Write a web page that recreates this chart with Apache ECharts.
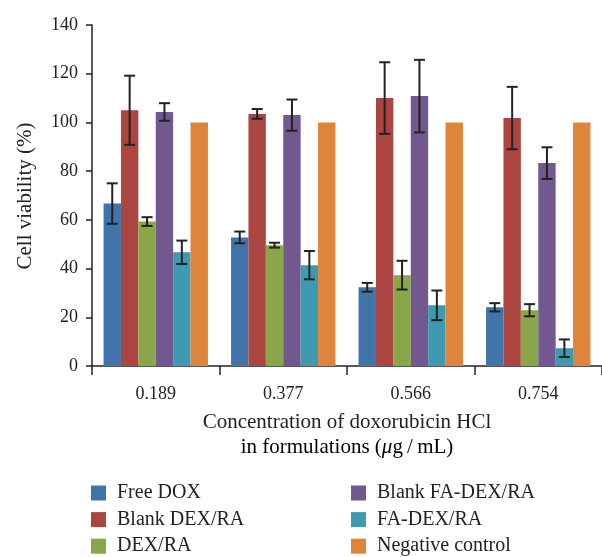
<!DOCTYPE html>
<html>
<head>
<meta charset="utf-8">
<script src="https://cdn.jsdelivr.net/npm/echarts@6/dist/echarts.min.js"></script>
<style>
  html, body { margin: 0; padding: 0; background: #fff; }
  #chart { width: 602px; height: 557px; }
</style>
</head>
<body>
<div id="chart"></div>
<script>
// Doxorubicin concentrations (µg/mL)
const categories = ['0.189', '0.377', '0.566', '0.754'];
const yTicks = [0, 20, 40, 60, 80, 100, 120, 140];

// Mean cell viability (%) per formulation
const freeDox      = [66.7, 52.8, 32.3, 24.1];
const blankDexRa   = [105.0, 103.5, 110.0, 101.8];
const dexRa        = [59.3, 49.6, 37.3, 22.9];
const blankFaDexRa = [104.3, 103.0, 110.8, 83.3];
const faDexRa      = [46.7, 41.4, 24.9, 7.3];
const negControl   = [100, 100, 100, 100];

// Standard deviations
const freeDoxSd      = [8.3, 2.4, 1.8, 1.7];
const blankDexRaSd   = [14.2, 2.0, 14.7, 12.8];
const dexRaSd        = [1.8, 1.0, 5.9, 2.5];
const blankFaDexRaSd = [3.6, 6.4, 14.9, 6.5];
const faDexRaSd      = [4.8, 5.8, 6.1, 3.6];
const negControlSd   = [0, 0, 0, 0];

const seriesNames = ['Free DOX', 'Blank DEX/RA', 'DEX/RA', 'Blank FA-DEX/RA', 'FA-DEX/RA', 'Negative control'];
const seriesValues = [freeDox, blankDexRa, dexRa, blankFaDexRa, faDexRa, negControl];
const seriesSd = [freeDoxSd, blankDexRaSd, dexRaSd, blankFaDexRaSd, faDexRaSd, negControlSd];
const colors = ['#4174a8', '#aa4542', '#89a64b', '#71588f', '#3e9ab0', '#de8539'];

const BAR_W = 17.4;
const FONT = '"Liberation Serif", "DejaVu Serif", serif';
const TEXT = '#222';

const chart = echarts.init(document.getElementById('chart'), null, { renderer: 'canvas' });

const barSeries = seriesNames.map((name, i) => ({
  name: name,
  type: 'bar',
  data: seriesValues[i],
  barWidth: BAR_W,
  barGap: '0%',
  itemStyle: { color: colors[i] },
  z: 2
}));

// Error bars drawn at the centre of each bar in its group
const errorSeries = seriesNames.map((name, i) => ({
  type: 'custom',
  name: name + ' sd',
  z: 5,
  silent: true,
  data: seriesValues[i].map((v, j) => [j, v, seriesSd[i][j]]),
  renderItem: function (params, api) {
    const sd = api.value(2);
    if (!sd) return null;
    const mean = api.value(1);
    const c = api.coord([api.value(0), mean]);
    const x = c[0] + (i - 2.5) * BAR_W;
    const top = api.coord([api.value(0), mean + sd])[1];
    const bot = api.coord([api.value(0), mean - sd])[1];
    const cap = 5.5;
    const style = { stroke: '#222', lineWidth: 2 };
    return {
      type: 'group',
      children: [
        { type: 'line', shape: { x1: x, y1: top, x2: x, y2: bot }, style: style },
        { type: 'line', shape: { x1: x - cap, y1: top, x2: x + cap, y2: top }, style: style },
        { type: 'line', shape: { x1: x - cap, y1: bot, x2: x + cap, y2: bot }, style: style }
      ]
    };
  }
}));

const legendBase = {
  orient: 'vertical',
  padding: 0,
  height: 100,
  itemWidth: 15,
  itemHeight: 15,
  itemGap: 6.6,
  icon: 'rect',
  selectedMode: false,
  textStyle: { fontFamily: FONT, fontSize: 20, color: TEXT, padding: [0, 0, 0, 6] }
};

chart.setOption({
  animation: false,
  backgroundColor: '#fff',
  color: colors,
  grid: { left: 92, right: -9, top: 25, bottom: 191 },
  legend: [
    Object.assign({}, legendBase, { left: 91, top: 483, data: seriesNames.slice(0, 3) }),
    Object.assign({}, legendBase, { left: 351, top: 483, data: seriesNames.slice(3) })
  ],
  xAxis: {
    type: 'category',
    data: categories,
    axisLine: { lineStyle: { color: '#222', width: 1.5 } },
    axisTick: { show: true, length: 9, lineStyle: { color: '#222', width: 1.5 } },
    axisLabel: { fontFamily: FONT, fontSize: 18, color: TEXT, margin: 19 }
  },
  yAxis: {
    type: 'value',
    min: yTicks[0],
    max: yTicks[yTicks.length - 1],
    interval: 20,
    splitLine: { show: false },
    axisLine: { show: true, lineStyle: { color: '#222', width: 1.5 } },
    axisTick: { show: true, length: 6, lineStyle: { color: '#222', width: 1.5 } },
    axisLabel: { fontFamily: FONT, fontSize: 18, color: TEXT, margin: 14 }
  },
  graphic: [
    {
      type: 'text',
      x: 25, y: 196,
      rotation: Math.PI / 2,
      style: {
        text: 'Cell viability (%)',
        font: '21px ' + FONT,
        fill: TEXT,
        align: 'center',
        verticalAlign: 'middle'
      }
    },
    {
      type: 'text',
      x: 347, y: 422,
      style: {
        text: 'Concentration of doxorubicin HCl',
        font: '21px ' + FONT,
        fill: TEXT,
        align: 'center',
        verticalAlign: 'middle'
      }
    },
    {
      type: 'text',
      x: 347, y: 447,
      style: {
        text: '{t|in formulations (}{i|μ}{t|g\u2009/\u2009mL)}',
        align: 'center',
        verticalAlign: 'middle',
        rich: {
          t: { fontFamily: FONT, fontSize: 21, color: TEXT },
          i: { fontFamily: FONT, fontSize: 21, fontStyle: 'italic', color: TEXT }
        }
      }
    }
  ],
  series: barSeries.concat(errorSeries)
});
</script>
</body>
</html>
